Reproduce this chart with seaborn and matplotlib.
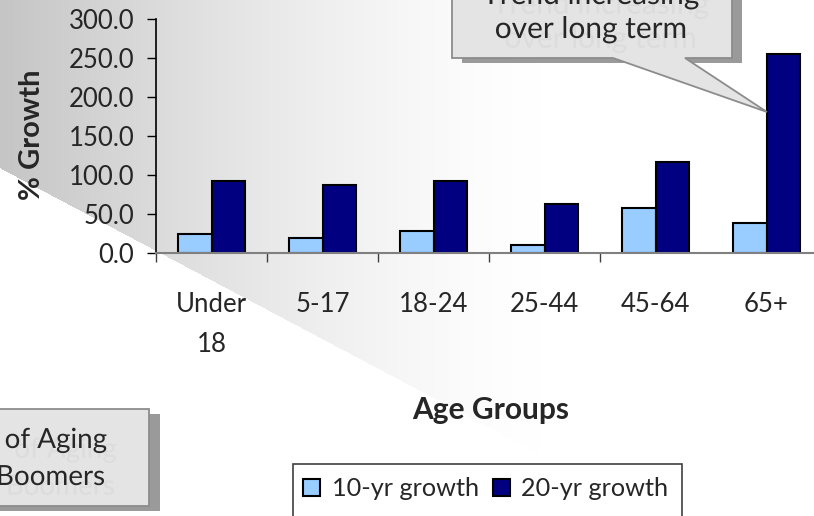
import numpy as np
import pandas as pd
import matplotlib
matplotlib.use('Agg')
import matplotlib.pyplot as plt
import matplotlib.patheffects as pe
from matplotlib.patches import Rectangle, Polygon
import seaborn as sns

# Chart data
age_groups = ['Under\n18', '5-17', '18-24', '25-44', '45-64', '65+']
growth_10yr = [24.9, 19.3, 27.8, 10.8, 57.4, 38.5]
growth_20yr = [92.4, 87.8, 92.4, 62.9, 116.8, 255.5]
series_names = ['10-yr growth', '20-yr growth']
y_ticks = [0, 50, 100, 150, 200, 250, 300]

df = pd.DataFrame({
    'group': age_groups * 2,
    'growth': growth_10yr + growth_20yr,
    'series': [series_names[0]] * len(age_groups) + [series_names[1]] * len(age_groups),
})

sns.set_style('ticks')
plt.rcParams['font.family'] = ['Lato', 'DejaVu Sans']

W, H = 814, 516
fig = plt.figure(figsize=(W / 100, H / 100), dpi=100)

# Slide background: grey gradient cut by a diagonal
bg = fig.add_axes([0, 0, 1, 1], zorder=-1)
xs = np.arange(W)[None, :]
ys = np.arange(H)[:, None]
shade = 255 - 58 * np.clip(1 - xs / 540, 0, 1) ** 1.4
grey = np.where(ys < 168 + 0.53 * xs, shade, 255.0) / 255.0
bg.imshow(np.dstack([grey, grey, grey]), extent=[0, W, H, 0], aspect='auto')
bg.set_xlim(0, W)
bg.set_ylim(H, 0)
bg.axis('off')

# Main chart
ax = fig.add_axes([156 / W, (H - 253) / H, 658 / W, 234 / H])
ax.set_facecolor('none')
sns.barplot(data=df, x='group', y='growth', hue='series',
            palette=['#99ccff', '#000080'], saturation=1, width=0.6,
            edgecolor='black', linewidth=1.5, ax=ax)
handles, labels = ax.get_legend_handles_labels()
ax.get_legend().remove()

ax.set_xlim(-0.5, -0.5 + 658 / 111)
ax.set_ylim(0, 300)
ax.set_yticks(y_ticks)
ax.set_yticklabels([f'{v:.1f}' for v in y_ticks])
ax.set_xticks(range(len(age_groups)))
ax.set_xticklabels(age_groups)
ax.set_xticks(np.arange(len(age_groups) - 1) - 0.5, minor=True)
for lbl in ax.get_xticklabels():
    lbl.set_linespacing(1.75)
ax.tick_params(axis='y', length=6.5, width=1, color='black', labelsize=18.5, pad=9)
ax.tick_params(axis='x', which='major', length=0, labelsize=18.5, pad=28)
ax.tick_params(axis='x', which='minor', length=6.5, width=1, color='#404040')
sns.despine(ax=ax)
ax.spines['left'].set_color('black')
ax.spines['left'].set_linewidth(1.2)
ax.spines['bottom'].set_color('#808080')
ax.spines['bottom'].set_linewidth(1.5)

ax.set_ylabel('% Growth', fontsize=21, fontweight='bold')
ax.yaxis.set_label_coords(-0.168, 0.504)
ax.set_xlabel('Age Groups', fontsize=21.5, fontweight='bold')
ax.xaxis.set_label_coords(0.508, -0.61)

# Callouts and legend frame, in pixel coordinates
ov = fig.add_axes([0, 0, 1, 1], zorder=2)
ov.set_facecolor('none')
ov.set_xlim(0, W)
ov.set_ylim(H, 0)
ov.axis('off')

box_fc, box_ec, shadow = '#e4e4e4', '#8c8c8c', '#9a9a9a'
echo = [pe.SimplePatchShadow(offset=(7, -7), shadow_rgbFace='#dcdcdc', alpha=1), pe.Normal()]

ov.add_patch(Rectangle((462, -20), 280, 83, fc=shadow, ec='none'))
ov.add_patch(Polygon([(452, -20), (732, -20), (732, 58), (685, 58), (767, 112),
                      (613, 58), (452, 58)], closed=True, fc=box_fc, ec=box_ec, lw=1.3))
ov.text(591, 4, 'Trend increasing', ha='center', va='baseline', fontsize=21.5, path_effects=echo)
ov.text(591, 38, 'over long term', ha='center', va='baseline', fontsize=21.5, path_effects=echo)

ov.add_patch(Rectangle((-10, 414), 170, 97, fc=shadow, ec='none'))
ov.add_patch(Rectangle((-20, 409), 169, 97, fc=box_fc, ec=box_ec, lw=1.3))
ov.text(107, 448, 'of Aging', ha='right', va='baseline', fontsize=20, path_effects=echo)
ov.text(105, 485, 'Boomers', ha='right', va='baseline', fontsize=20, path_effects=echo)

ov.add_patch(Rectangle((293, 464), 389, 80, fc='white', ec='#404040', lw=1.2))

fig.legend(handles, labels, ncol=2, frameon=False, loc='center left',
           bbox_to_anchor=(303 / W, 1 - 489 / H), borderpad=0, borderaxespad=0,
           fontsize=18.2, handlelength=0.68, handleheight=0.68, handletextpad=0.45,
           columnspacing=0.55)

fig.savefig('out.png', dpi=100)
